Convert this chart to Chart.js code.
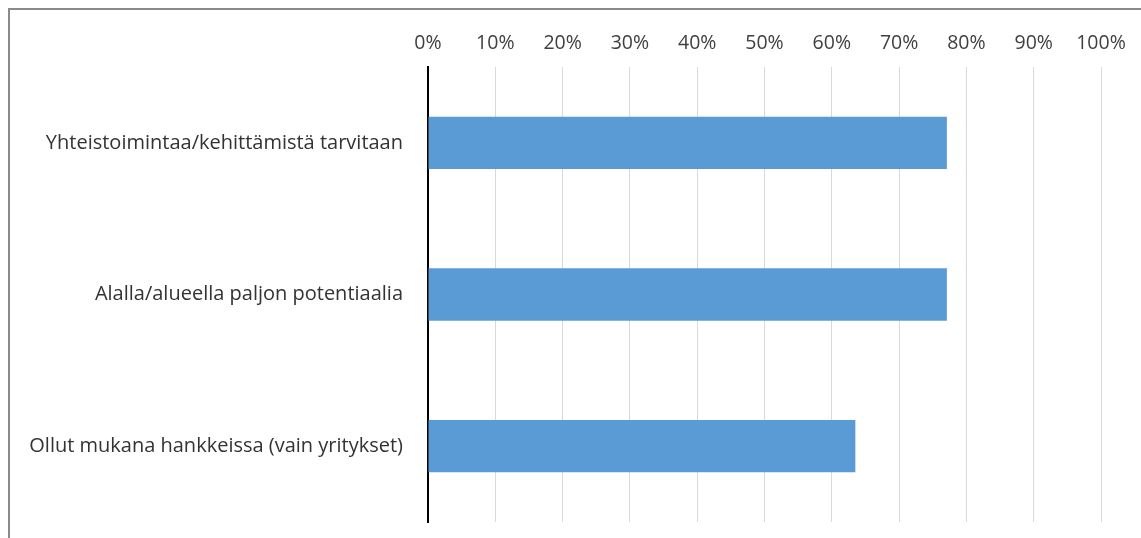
<!DOCTYPE html>
<html>
<head>
    <meta charset="UTF-8" />
    <title>Yhteistoiminta</title>
    <style>
        html, body { margin: 0; padding: 0; background: #fff; overflow: hidden; }
        .kehys {
            position: absolute; left: 8px; top: 8px;
            width: 1200px; height: 600px;
            border: 2px solid #8a8a8a;
        }
        #kaavio { position: absolute; left: 0; top: 0; }
    </style>
</head>
<body>
    <div class="kehys"></div>
    <canvas id="kaavio" width="1141" height="538"></canvas>
    <script src="https://cdn.jsdelivr.net/npm/chart.js"></script>
    <script>
        // Kategoriat ja arvot (%)
        const kategoriat = [
            'Yhteistoimintaa/kehittämistä tarvitaan',
            'Alalla/alueella paljon potentiaalia',
            'Ollut mukana hankkeissa (vain yritykset)'
        ];
        const osuudet = [77.1, 77.1, 63.5];
        const asteikko = { min: 0, max: 100, askel: 10 };

        const ctx = document.getElementById('kaavio').getContext('2d');

        new Chart(ctx, {
            type: 'bar',
            data: {
                labels: kategoriat,
                datasets: [{
                    data: osuudet,
                    backgroundColor: '#5b9bd5',
                    barPercentage: 0.345,
                    categoryPercentage: 1
                }]
            },
            options: {
                indexAxis: 'y',
                responsive: false,
                animation: false,
                layout: { padding: { left: 0, right: 40, top: 0, bottom: 16 } },
                plugins: {
                    legend: { display: false },
                    tooltip: { enabled: false }
                },
                scales: {
                    x: {
                        position: 'top',
                        min: asteikko.min,
                        max: asteikko.max,
                        afterFit: (s) => { s.height = 67; },
                        border: { display: false },
                        grid: { color: '#d9d9d9', lineWidth: 1, drawTicks: false },
                        ticks: {
                            stepSize: asteikko.askel,
                            padding: 12,
                            color: '#404040',
                            font: { family: 'Open Sans', size: 19.5 },
                            callback: (v) => v + '%'
                        }
                    },
                    y: {
                        // kiinteä leveys, ei ylimääräistä pystysuuntaista täytettä
                        afterFit: (s) => { s.width = 428; s.paddingTop = 0; s.paddingBottom = 0; },
                        border: { display: true, color: '#000', width: 2 },
                        grid: { display: false },
                        ticks: {
                            padding: 17,
                            color: '#333333',
                            font: { family: 'Open Sans', size: 20 }
                        }
                    }
                }
            }
        });
    </script>
</body>
</html>
